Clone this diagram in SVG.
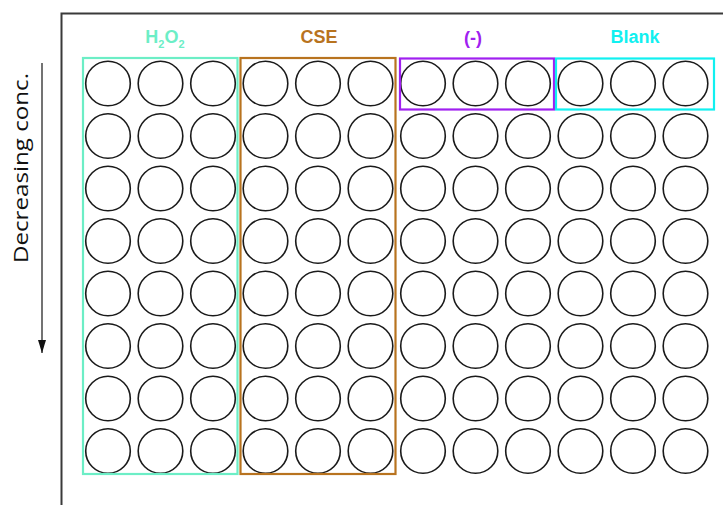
<svg xmlns="http://www.w3.org/2000/svg" width="723" height="505" viewBox="0 0 723 505">
<style>
.well{fill:none;stroke:#1a1a1a;stroke-width:1.6}
.lbl{font-family:"Liberation Sans",Arial,sans-serif;font-weight:bold;font-size:18px;text-anchor:middle}
.box{fill:none;stroke-width:2.2}
</style>
<defs>
<marker id="ah" markerWidth="13" markerHeight="8" refX="13" refY="4" orient="auto" markerUnits="userSpaceOnUse" viewBox="0 0 13 8">
<path d="M0,0 L13,4 L0,8 Z" fill="#111"/>
</marker>
<g id="row">
<circle class="well" cx="108" cy="0" r="22.3"/>
<circle class="well" cx="160.5" cy="0" r="22.3"/>
<circle class="well" cx="213" cy="0" r="22.3"/>
<circle class="well" cx="265.5" cy="0" r="22.3"/>
<circle class="well" cx="318" cy="0" r="22.3"/>
<circle class="well" cx="370.5" cy="0" r="22.3"/>
<circle class="well" cx="423" cy="0" r="22.3"/>
<circle class="well" cx="475.5" cy="0" r="22.3"/>
<circle class="well" cx="528" cy="0" r="22.3"/>
<circle class="well" cx="580.5" cy="0" r="22.3"/>
<circle class="well" cx="633" cy="0" r="22.3"/>
<circle class="well" cx="685.5" cy="0" r="22.3"/>
</g>
</defs>
<rect width="723" height="505" fill="#fff"/>
<g id="plate">
<path d="M61.5,505 L61.5,13.5 L723,13.5" fill="none" stroke="#3a3a3a" stroke-width="2"/>
</g>
<g id="wells">
<use href="#row" y="83.5"/>
<use href="#row" y="136"/>
<use href="#row" y="188.5"/>
<use href="#row" y="241"/>
<use href="#row" y="293.5"/>
<use href="#row" y="346"/>
<use href="#row" y="398.5"/>
<use href="#row" y="451"/>
</g>
<g id="h2o2">
<rect class="box" x="83" y="58" width="154.5" height="416" stroke="#6ceec6"/>
<text class="lbl" x="165" y="43" fill="#6ceec6">H<tspan font-size="11" dy="5">2</tspan><tspan dy="-5">O</tspan><tspan font-size="11" dy="5">2</tspan></text>
</g>
<g id="cse">
<rect class="box" x="240.5" y="58" width="155" height="416" stroke="#b8731f" stroke-width="2.5"/>
<text class="lbl" x="319" y="43" fill="#b8731f">CSE</text>
</g>
<g id="neg">
<rect class="box" x="400" y="58.5" width="154" height="51" stroke="#a020f0"/>
<text class="lbl" x="473" y="44" fill="#a020f0" font-size="20">(-)</text>
</g>
<g id="blank">
<rect class="box" x="556" y="58.5" width="158" height="51" stroke="#11f0f0"/>
<text class="lbl" x="635" y="43" fill="#11f0f0">Blank</text>
</g>
<g id="conc">
<text transform="translate(28,168) rotate(-90)" font-family="'Open Sans','Liberation Sans',sans-serif" font-size="20" text-anchor="middle" textLength="190" lengthAdjust="spacingAndGlyphs" fill="#111">Decreasing conc.</text>
</g>
<g id="connectors">
<line x1="42" y1="63" x2="42" y2="353" stroke="#444" stroke-width="1.5" marker-end="url(#ah)"/>
</g>
</svg>
